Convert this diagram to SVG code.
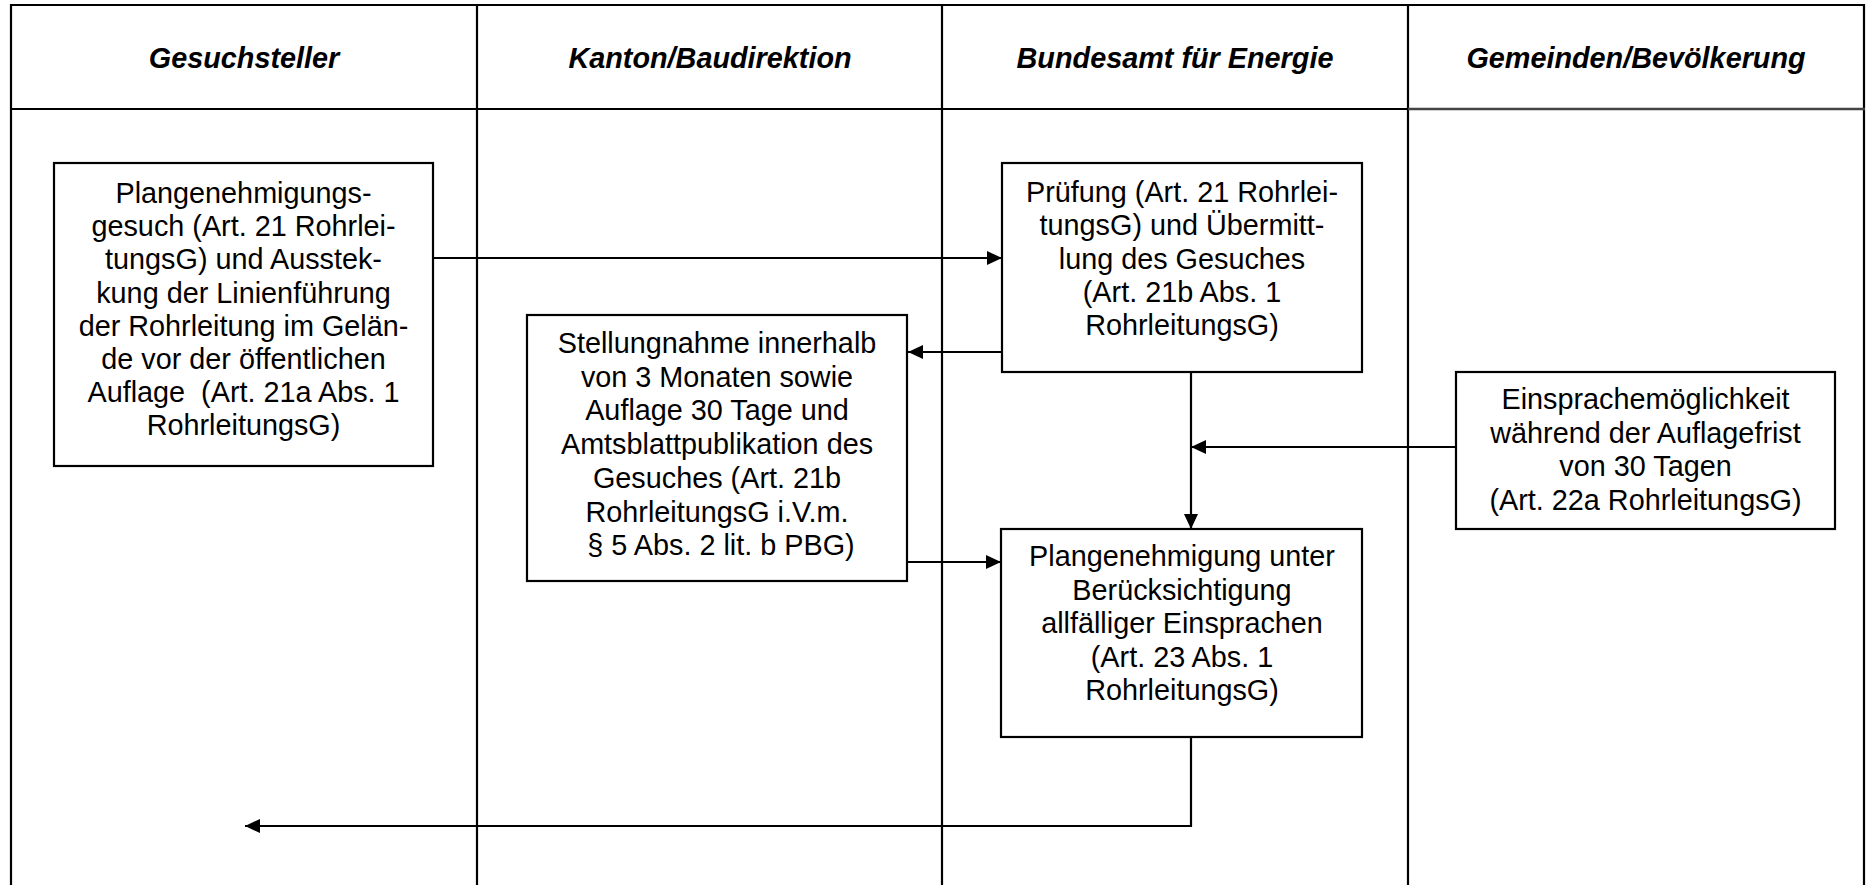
<svg xmlns="http://www.w3.org/2000/svg" width="1867" height="885" viewBox="0 0 1867 885">
<style>
.frame{fill:none;stroke:#000;stroke-width:2.2}
.box{fill:#fff;stroke:#000;stroke-width:2.2}
.hdr{font-family:"Liberation Sans",Arial,sans-serif;font-size:28.8px;font-weight:bold;font-style:italic;fill:#000;text-anchor:middle}
.txt{font-family:"Liberation Sans",Arial,sans-serif;font-size:28.8px;fill:#000;text-anchor:middle}
.conn{fill:none;stroke:#000;stroke-width:2.2}
</style>
<defs>
<marker id="ah" markerUnits="userSpaceOnUse" markerWidth="16" markerHeight="14" refX="15" refY="7" orient="auto">
<path d="M0,0 L15,7 L0,14 z" fill="#000"/>
</marker>
</defs>
<rect width="1867" height="885" fill="#fff"/>
<g id="table">
<line class="frame" x1="11" y1="5" x2="1865" y2="5"/>
<line class="frame" x1="11" y1="4" x2="11" y2="885"/>
<line class="frame" x1="1864" y1="4" x2="1864" y2="885"/>
<line class="frame" x1="477" y1="5" x2="477" y2="885"/>
<line class="frame" x1="942" y1="5" x2="942" y2="885"/>
<line class="frame" x1="1408" y1="5" x2="1408" y2="885"/>
<line class="frame" x1="11" y1="109" x2="1408" y2="109"/>
<line x1="1408" y1="109" x2="1865" y2="109" stroke="#444" stroke-width="2.4"/>
<text class="hdr" x="244" y="68">Gesuchsteller</text>
<text class="hdr" x="710" y="68">Kanton/Baudirektion</text>
<text class="hdr" x="1175" y="68">Bundesamt für Energie</text>
<text class="hdr" x="1636" y="68">Gemeinden/Bevölkerung</text>
</g>
<g id="connectors">
<line class="conn" x1="433" y1="258" x2="1002" y2="258" marker-end="url(#ah)"/>
<line class="conn" x1="1002" y1="352" x2="908" y2="352" marker-end="url(#ah)"/>
<line class="conn" x1="907" y1="562" x2="1001" y2="562" marker-end="url(#ah)"/>
<line class="conn" x1="1191" y1="372" x2="1191" y2="529" marker-end="url(#ah)"/>
<line class="conn" x1="1456" y1="447" x2="1191" y2="447" marker-end="url(#ah)"/>
<polyline class="conn" points="1191,737 1191,826 245,826" marker-end="url(#ah)"/>
</g>
<g id="node-gesuch">
<rect class="box" x="54" y="163" width="379" height="303"/>
<text class="txt" x="243.5" y="203">Plangenehmigungs-</text>
<text class="txt" x="243.5" y="236.2">gesuch (Art. 21 Rohrlei-</text>
<text class="txt" x="243.5" y="269.4">tungsG) und Ausstek-</text>
<text class="txt" x="243.5" y="302.6">kung der Linienführung</text>
<text class="txt" x="243.5" y="335.8">der Rohrleitung im Gelän-</text>
<text class="txt" x="243.5" y="369">de vor der öffentlichen</text>
<text class="txt" x="243.5" y="402.2" xml:space="preserve">Auflage  (Art. 21a Abs. 1</text>
<text class="txt" x="243.5" y="435.4">RohrleitungsG)</text>
</g>
<g id="node-pruefung">
<rect class="box" x="1002" y="163" width="360" height="209"/>
<text class="txt" x="1182" y="202">Prüfung (Art. 21 Rohrlei-</text>
<text class="txt" x="1182" y="235.3">tungsG) und Übermitt-</text>
<text class="txt" x="1182" y="268.6">lung des Gesuches</text>
<text class="txt" x="1182" y="301.9">(Art. 21b Abs. 1</text>
<text class="txt" x="1182" y="335.2">RohrleitungsG)</text>
</g>
<g id="node-stellungnahme">
<rect class="box" x="527" y="315" width="380" height="266"/>
<text class="txt" x="717" y="353">Stellungnahme innerhalb</text>
<text class="txt" x="717" y="386.7">von 3 Monaten sowie</text>
<text class="txt" x="717" y="420.4">Auflage 30 Tage und</text>
<text class="txt" x="717" y="454.1">Amtsblattpublikation des</text>
<text class="txt" x="717" y="487.8">Gesuches (Art. 21b</text>
<text class="txt" x="717" y="521.5">RohrleitungsG i.V.m.</text>
<text class="txt" x="721" y="555.2">§ 5 Abs. 2 lit. b PBG)</text>
</g>
<g id="node-einsprache">
<rect class="box" x="1456" y="372" width="379" height="157"/>
<text class="txt" x="1645.5" y="409">Einsprachemöglichkeit</text>
<text class="txt" x="1645.5" y="442.7">während der Auflagefrist</text>
<text class="txt" x="1645.5" y="476.4">von 30 Tagen</text>
<text class="txt" x="1645.5" y="510.1">(Art. 22a RohrleitungsG)</text>
</g>
<g id="node-plangenehmigung">
<rect class="box" x="1001" y="529" width="361" height="208"/>
<text class="txt" x="1182" y="566">Plangenehmigung unter</text>
<text class="txt" x="1182" y="599.5">Berücksichtigung</text>
<text class="txt" x="1182" y="633">allfälliger Einsprachen</text>
<text class="txt" x="1182" y="666.5">(Art. 23 Abs. 1</text>
<text class="txt" x="1182" y="700">RohrleitungsG)</text>
</g>
</svg>
